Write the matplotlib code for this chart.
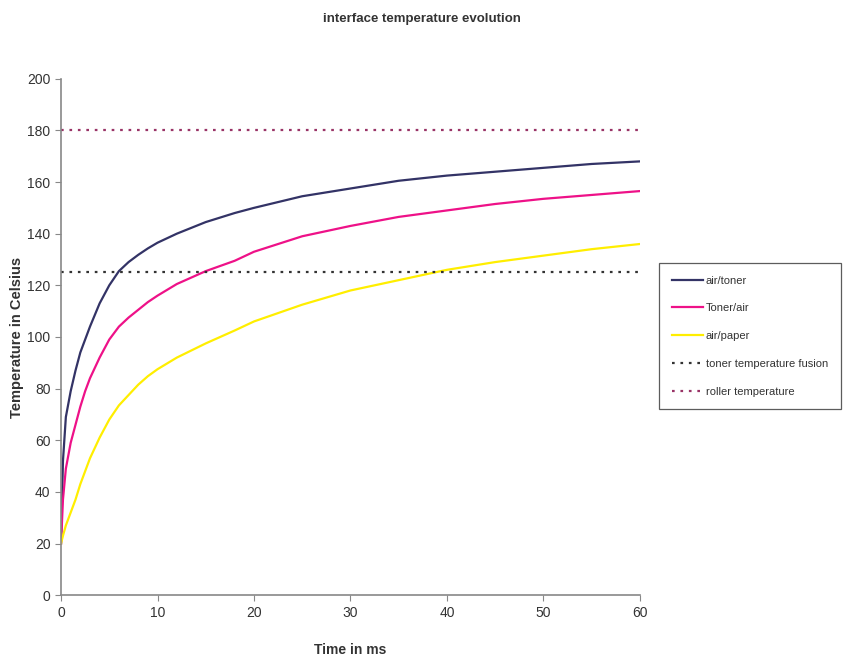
import matplotlib
matplotlib.use("Agg")
import matplotlib.pyplot as plt

plt.rcParams['font.family'] = ['Liberation Sans', 'DejaVu Sans']

time = [0, 0.2, 0.5, 1, 1.5, 2, 2.5, 3, 4, 5, 6, 7, 8, 9, 10, 12, 15, 18, 20,
        25, 30, 35, 40, 45, 50, 55, 60]
air_toner = [20, 52, 69, 79, 87, 94, 99, 104, 113, 120, 125.5, 129, 131.8, 134.3,
             136.5, 140, 144.5, 148, 150, 154.5, 157.5, 160.5, 162.5, 164, 165.5, 167, 168]
toner_air = [20, 37, 49, 59, 66, 73, 79, 84, 92, 99, 104, 107.5, 110.5, 113.5,
             116, 120.5, 125.5, 129.5, 133, 139, 143, 146.5, 149, 151.5, 153.5, 155, 156.5]
air_paper = [20, 23, 27, 32, 37, 43, 48, 53, 61, 68, 73.5, 77.5, 81.5, 84.8,
             87.5, 92, 97.5, 102.5, 106, 112.5, 118, 122, 126, 129, 131.5, 134, 136]
fusion_temp = 125
roller_temp = 180

fig = plt.figure(figsize=(8.43, 6.62), dpi=100)
ax = fig.add_axes([0.0724, 0.101, 0.6866, 0.780])

ax.plot(time, air_toner, color='#333366', lw=1.6, label='air/toner')
ax.plot(time, toner_air, color='#EE1188', lw=1.6, label='Toner/air')
ax.plot(time, air_paper, color='#FFEE00', lw=1.6, label='air/paper')
ax.axhline(fusion_temp, color='#333333', lw=1.6, ls=(0, (1.2, 2.6)),
           label='toner temperature fusion')
ax.axhline(roller_temp, color='#993366', lw=1.6, ls=(0, (1.2, 2.6)),
           label='roller temperature')

ax.set_xlim(0, 60)
ax.set_ylim(0, 200)
ax.set_xticks(range(0, 61, 10))
ax.set_yticks(range(0, 201, 20))
for s in ['top', 'right']:
    ax.spines[s].set_visible(False)
for s in ['left', 'bottom']:
    ax.spines[s].set_color('#888888')
    ax.spines[s].set_linewidth(1.2)
ax.tick_params(direction='out', length=4, color='#888888', labelsize=10,
               labelcolor='#333333')

ax.set_xlabel('Time in ms', fontsize=10, fontweight='bold', color='#333333',
              labelpad=17)
ax.set_ylabel('Temperature in Celsius', fontsize=10.5, fontweight='bold',
              color='#333333', labelpad=2)
fig.text(0.5, 0.972, 'interface temperature evolution', ha='center', va='center',
         fontsize=9.5, fontweight='bold', color='#333333')

leg = fig.legend(loc='upper left', bbox_to_anchor=(0.782, 0.603), fontsize=8,
                 frameon=True, fancybox=False, handlelength=2.8,
                 labelspacing=1.6, borderpad=1.15, handletextpad=0.25,
                 borderaxespad=0)
leg.get_frame().set_edgecolor('#333333')
leg.get_frame().set_linewidth(0.9)
for t in leg.get_texts():
    t.set_color('#333333')

fig.savefig('out.png', dpi=100)
